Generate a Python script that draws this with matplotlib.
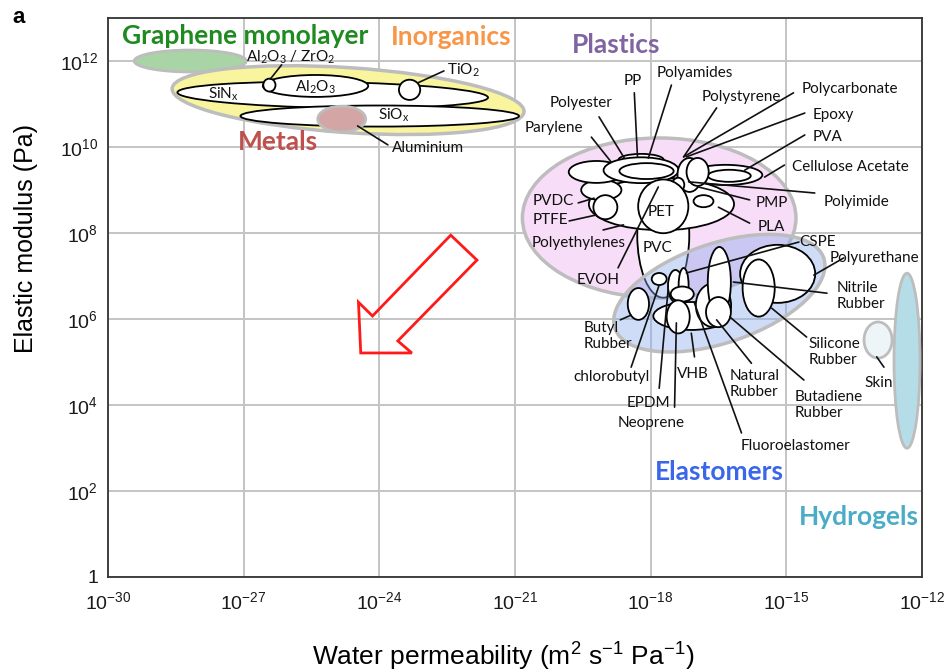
import matplotlib
matplotlib.use('Agg')
import matplotlib.pyplot as plt
from matplotlib.patches import Ellipse, Polygon

# ---------------- axes (values in log10 units) ----------------
x_ticks = [-30, -27, -24, -21, -18, -15, -12]
x_tick_labels = [r'$\mathregular{10^{-30}}$', r'$\mathregular{10^{-27}}$', r'$\mathregular{10^{-24}}$',
                 r'$\mathregular{10^{-21}}$', r'$\mathregular{10^{-18}}$', r'$\mathregular{10^{-15}}$',
                 r'$\mathregular{10^{-12}}$']
y_ticks = [0, 2, 4, 6, 8, 10, 12]
y_tick_labels = ['1', r'$\mathregular{10^{2}}$', r'$\mathregular{10^{4}}$', r'$\mathregular{10^{6}}$',
                 r'$\mathregular{10^{8}}$', r'$\mathregular{10^{10}}$', r'$\mathregular{10^{12}}$']
x_range = [-30, -12]
y_range = [0, 13]

# ---------------- class regions: (log10 P, log10 E, width, height, angle) ----------------
graphene = (-28.18, 12.00, 2.48, 0.51, 0)
inorganics = (-24.69, 11.09, 7.80, 1.51, -4)
metals_al = (-24.83, 10.65, 1.06, 0.60, 0)
plastics = (-17.81, 8.35, 6.05, 3.72, 0)
elastomers = (-16.48, 6.60, 4.90, 2.30, 20)
hydrogels = (-12.33, 5.03, 0.575, 4.07, 0)
skin = (-12.97, 5.51, 0.62, 0.84, 0)

# ---------------- individual materials ----------------
inorganic_x = [-25.03, -25.41, -26.43, -23.33, -23.99]      # SiNx, Al2O3, Al2O3/ZrO2, TiO2, SiOx
inorganic_y = [11.21, 11.42, 11.44, 11.33, 10.72]
inorganic_w = [6.87, 2.33, 0.27, 0.47, 6.16]
inorganic_h = [0.60, 0.51, 0.30, 0.47, 0.49]
inorganic_a = [-1, 0, 0, 0, 0]

plastic_x = [-17.72, -17.76, -19.09, -19.20, -18.21, -18.21, -18.09, -16.34, -16.26, -17.14, -16.96, -17.39, -17.72, -19.00, -16.83]
plastic_y = [7.95, 8.67, 9.00, 9.42, 9.70, 9.46, 9.44, 9.35, 9.33, 9.35, 9.42, 9.12, 8.62, 8.60, 8.74]
plastic_w = [1.15, 3.21, 0.89, 1.22, 1.00, 1.66, 1.20, 1.62, 0.95, 0.53, 0.49, 0.27, 1.11, 0.53, 0.44]
plastic_h = [2.91, 1.21, 0.47, 0.51, 0.28, 0.60, 0.37, 0.47, 0.28, 0.79, 0.65, 0.33, 1.25, 0.56, 0.28]

elast_x = [-17.10, -16.61, -16.48, -16.50, -17.45, -17.27, -17.30, -17.39, -17.81, -18.27, -15.19, -15.61]
elast_y = [6.07, 6.32, 6.86, 6.16, 6.77, 6.79, 6.58, 6.05, 6.93, 6.35, 7.05, 6.72]
elast_w = [1.68, 0.78, 0.51, 0.55, 0.33, 0.22, 0.51, 0.51, 0.33, 0.47, 1.66, 0.71]
elast_h = [0.65, 1.02, 1.63, 0.70, 0.74, 0.79, 0.35, 0.77, 0.28, 0.74, 1.35, 1.33]

# ---------------- labels ----------------
class_labels = ['Graphene monolayer', 'Inorganics', 'Metals', 'Plastics', 'Elastomers', 'Hydrogels']
class_x = [-26.96, -22.42, -26.25, -18.76, -16.48, -13.39]
class_y = [12.58, 12.56, 10.12, 12.37, 2.44, 1.39]
class_colors = ['#1f8a1f', '#f79646', '#c0504d', '#8064a2', '#3a66ea', '#4bacc6']

mat_labels = [r'Al$\mathregular{_2}$O$\mathregular{_3}$ / ZrO$\mathregular{_2}$', r'TiO$\mathregular{_2}$',
              r'SiN$\mathregular{_x}$', r'Al$\mathregular{_2}$O$\mathregular{_3}$', r'SiO$\mathregular{_x}$', 'Aluminium',
              'PP', 'Polyamides', 'Polyester', 'Parylene', 'Polystyrene', 'Polycarbonate', 'Epoxy', 'PVA',
              'Cellulose Acetate', 'Polyimide', 'PMP', 'PLA', 'PVDC', 'PTFE', 'PET', 'Polyethylenes', 'PVC', 'EVOH',
              'CSPE', 'Polyurethane', 'chlorobutyl', 'EPDM', 'Neoprene', 'VHB', 'Fluoroelastomer', 'Skin']
mat_x = [-25.97, -22.15, -27.45, -25.41, -23.68, -22.93,
         -18.40, -17.03, -19.54, -20.13, -15.99, -13.59, -13.95, -14.08,
         -13.59, -13.44, -15.32, -15.32, -20.16, -20.22, -17.76, -19.60, -17.85, -19.16,
         -14.30, -13.06, -18.87, -18.05, -17.98, -17.07, -14.79, -12.95]
mat_y = [12.09, 11.79, 11.23, 11.40, 10.74, 9.98,
         11.53, 11.72, 11.02, 10.44, 11.16, 11.35, 10.74, 10.23,
         9.53, 8.72, 8.70, 8.14, 8.74, 8.30, 8.49, 7.77, 7.65, 6.91,
         7.79, 7.42, 4.65, 4.04, 3.58, 4.72, 3.04, 4.51]

two_line_labels = ['Nitrile\nRubber', 'Silicone\nRubber', 'Natural\nRubber', 'Butadiene\nRubber', 'Butyl\nRubber']
two_line_x = [-13.88, -14.50, -16.25, -14.81, -19.49]
two_line_y = [6.53, 5.23, 4.49, 4.00, 5.60]

# leader lines: (x0, y0, x1, y1)
leaders = [(-26.16, 11.91, -26.41, 11.58), (-22.57, 11.77, -23.15, 11.49), (-24.48, 10.49, -23.81, 10.05),
           (-18.36, 11.26, -18.29, 9.77), (-17.54, 11.44, -18.05, 9.74), (-19.14, 10.70, -18.58, 9.74),
           (-19.31, 10.23, -18.87, 9.65), (-16.54, 10.91, -17.27, 9.77), (-14.84, 11.26, -17.27, 9.77),
           (-14.59, 10.79, -17.21, 9.77), (-14.59, 10.28, -15.92, 9.46), (-15.04, 9.58, -15.48, 9.30),
           (-14.37, 8.93, -17.16, 9.19), (-15.81, 8.77, -16.94, 9.07), (-15.81, 8.23, -16.50, 8.60),
           (-19.60, 8.70, -19.25, 8.81), (-19.80, 8.28, -19.20, 8.42), (-19.05, 8.07, -18.60, 8.19),
           (-18.72, 7.19, -17.83, 9.07),
           (-14.72, 7.79, -17.21, 7.07), (-13.73, 7.42, -14.39, 7.02), (-14.10, 6.60, -16.17, 6.86),
           (-14.55, 5.58, -15.32, 6.25), (-12.84, 4.88, -13.00, 5.12), (-18.67, 5.98, -18.43, 6.09),
           (-18.43, 4.88, -17.81, 6.79), (-17.81, 4.39, -17.61, 6.72), (-17.47, 3.95, -17.43, 5.91),
           (-17.03, 5.12, -17.10, 5.67), (-15.77, 4.97, -16.54, 5.98), (-14.61, 4.58, -16.25, 6.05),
           (-15.99, 3.35, -17.03, 6.37)]

# red arrow outline (log10 P, log10 E)
arrow_x = [-22.42, -21.84, -23.59, -23.28, -24.41, -24.46, -24.15]
arrow_y = [7.95, 7.37, 5.49, 5.21, 5.21, 6.39, 6.07]

# ---------------- drawing ----------------
fig = plt.figure(figsize=(9.52, 6.72), dpi=100)
ax = fig.add_axes([0.1134, 0.1414, 0.8550, 0.8318])
ax.set_xlim(*x_range)
ax.set_ylim(*y_range)
ax.set_xticks(x_ticks)
ax.set_xticklabels(x_tick_labels, fontfamily='Liberation Sans', fontsize=14)
ax.set_yticks(y_ticks)
ax.set_yticklabels(y_tick_labels, fontfamily='Liberation Sans', fontsize=14)
ax.tick_params(axis='both', length=0, colors='#1a1a1a')
ax.tick_params(axis='x', pad=10)
ax.tick_params(axis='y', pad=7)
ax.grid(True, color='#c4c4c4', lw=1.4)
ax.set_axisbelow(True)
for s in ax.spines.values():
    s.set_color('#333333')
    s.set_linewidth(1.3)

GREY = '#bdbdbd'


def ell(params, fc, ec, lw, z):
    x, y, w, h, a = params
    ax.add_patch(Ellipse((x, y), w, h, angle=a, facecolor=fc, edgecolor=ec, lw=lw, zorder=z))


ell(graphene, '#a9d4a6', GREY, 2.0, 2)
ell(inorganics, '#f9f59e', GREY, 2.5, 2)
for i in range(len(inorganic_x)):
    ell((inorganic_x[i], inorganic_y[i], inorganic_w[i], inorganic_h[i], inorganic_a[i]), 'white', 'black', 1.3, 3)
ell(metals_al, '#d4a5a5', GREY, 2.0, 4)

ell(plastics, '#f7ddf7', GREY, 2.5, 2)
for i in range(len(plastic_x)):
    ell((plastic_x[i], plastic_y[i], plastic_w[i], plastic_h[i], 0), 'white', 'black', 1.3, 3 + i * 0.01)

ell(elastomers, (0.55, 0.68, 0.93, 0.42), GREY, 2.5, 4)
for i in range(len(elast_x)):
    ell((elast_x[i], elast_y[i], elast_w[i], elast_h[i], 0), 'white', 'black', 1.3, 5 + i * 0.01)

ell(hydrogels, '#b5dde8', GREY, 2.0, 4)
ell(skin, '#eef5f9', GREY, 2.0, 4)

for (x0, y0, x1, y1) in leaders:
    ax.plot([x0, x1], [y0, y1], color='#111111', lw=1.2, zorder=7, solid_capstyle='round')

ax.add_patch(Polygon(list(zip(arrow_x, arrow_y)), closed=True, fill=False, edgecolor='#ff1a1a', lw=2.0, zorder=8))

LABEL_FONT = 'Lato'
for t, x, y in zip(mat_labels, mat_x, mat_y):
    ax.text(x, y, t, ha='center', va='center', fontsize=11, fontfamily=LABEL_FONT, color='#111111', zorder=9)
for t, x, y in zip(two_line_labels, two_line_x, two_line_y):
    ax.text(x, y, t, ha='left', va='center', fontsize=11, fontfamily=LABEL_FONT, color='#111111',
            linespacing=1.2, zorder=9)
for t, x, y, c in zip(class_labels, class_x, class_y, class_colors):
    ax.text(x, y, t, ha='center', va='center', fontsize=19, fontweight='bold', fontfamily=LABEL_FONT,
            color=c, zorder=9)

ax.set_xlabel(r'Water permeability (m$\mathregular{^2}$ s$\mathregular{^{-1}}$ Pa$\mathregular{^{-1}}$)',
              fontfamily='Liberation Sans', fontsize=19)
ax.xaxis.set_label_coords(0.486, -0.115)
ax.set_ylabel('Elastic modulus (Pa)', fontfamily='Liberation Sans', fontsize=18)
ax.yaxis.set_label_coords(-0.086, 0.606)

fig.text(12 / 952, 1 - 23 / 672, 'a', fontsize=16, fontweight='bold', fontfamily='Liberation Sans')

fig.savefig('out.png', dpi=100)
